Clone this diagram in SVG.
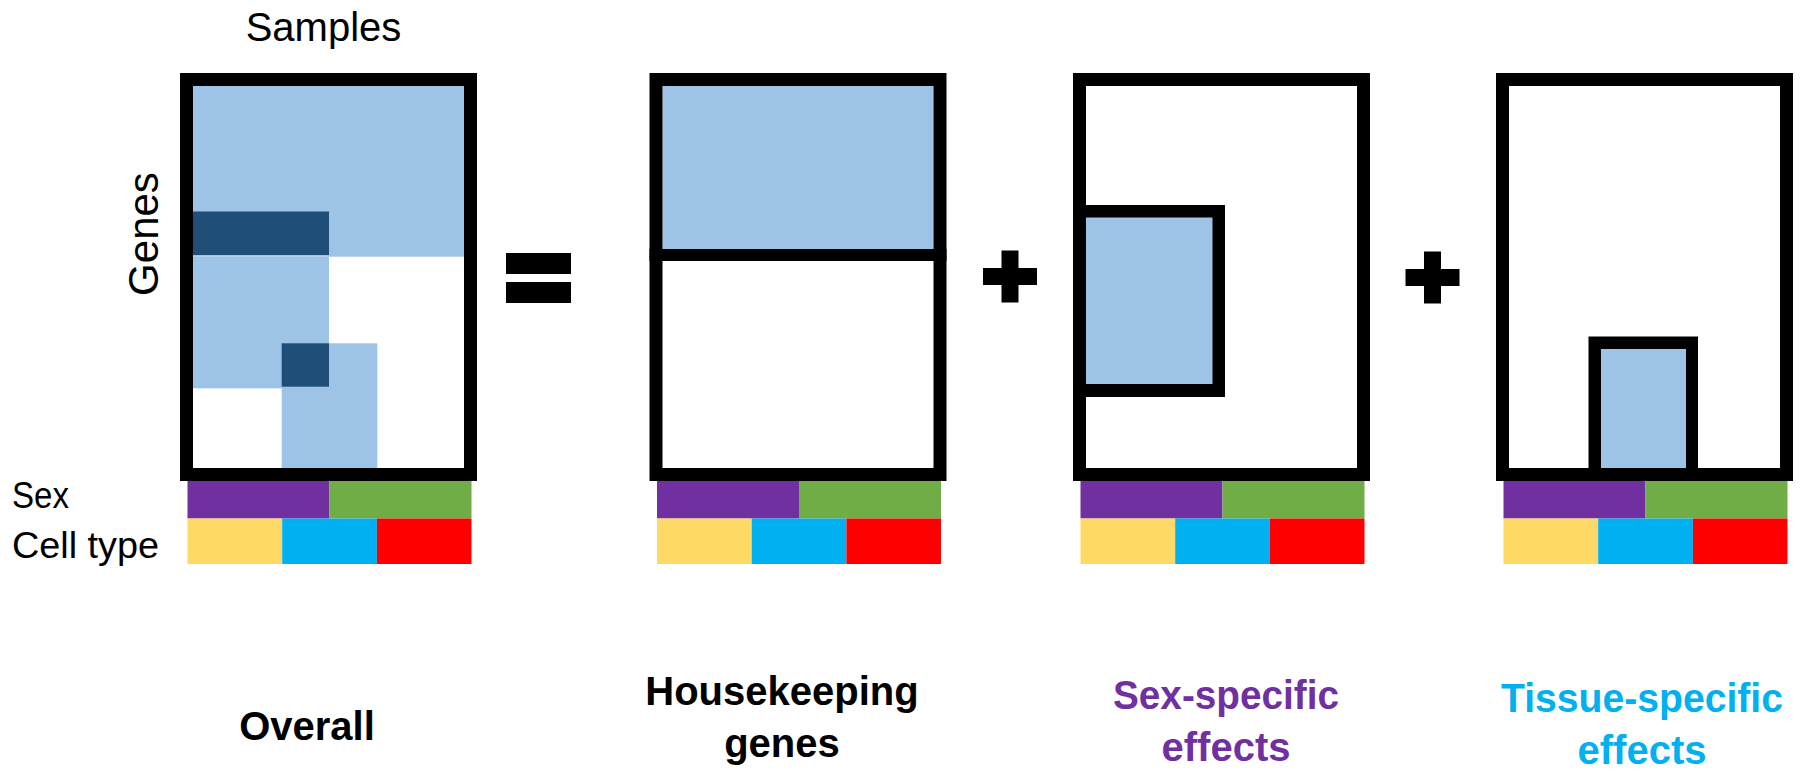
<svg xmlns="http://www.w3.org/2000/svg" width="1806" height="772" viewBox="0 0 1806 772">
  <style>
    text { font-family: "Liberation Sans", Arial, sans-serif; fill: #000; }
    .axis { font-size: 40px; }
    .side { font-size: 36px; }
    .cap { font-size: 40px; font-weight: bold; text-anchor: middle; }
    .frame { fill: none; stroke: #000; stroke-width: 13; }
    .ink { fill: #000; }
    .lb { fill: #9DC3E6; }
    .db { fill: #1F4E79; }
    .male { fill: #7030A0; }
    .female { fill: #70AD47; }
    .ct1 { fill: #FFD966; }
    .ct2 { fill: #00B0F0; }
    .ct3 { fill: #FF0000; }
  </style>
  <defs>
    <!-- sample annotation strip: sex row over cell-type row, 284 wide -->
    <g id="strip">
      <rect class="male" x="0" y="0" width="142" height="37.5"/>
      <rect class="female" x="142" y="0" width="142" height="37.5"/>
      <rect class="ct1" x="0" y="37.5" width="94.7" height="45.5"/>
      <rect class="ct2" x="94.7" y="37.5" width="94.7" height="45.5"/>
      <rect class="ct3" x="189.4" y="37.5" width="94.6" height="45.5"/>
    </g>
  </defs>
  <rect width="1806" height="772" fill="#fff"/>

  <!-- axis and row labels -->
  <g id="labels">
    <text class="axis" x="323.5" y="40.5" text-anchor="middle">Samples</text>
    <text class="axis" font-size="42" text-anchor="middle" transform="translate(158 234) rotate(-90)" style="font-size:42px">Genes</text>
    <text class="side" x="12" y="508" textLength="57" lengthAdjust="spacingAndGlyphs">Sex</text>
    <text class="side" x="12" y="558" textLength="147" lengthAdjust="spacingAndGlyphs">Cell type</text>
  </g>

  <!-- overall expression matrix -->
  <g id="overall">
    <rect class="lb" x="193" y="86" width="271" height="170.7"/>
    <rect class="db" x="193" y="211.5" width="136" height="43.5"/>
    <rect class="lb" x="193" y="256.7" width="136" height="131.6"/>
    <rect class="lb" x="281.7" y="343.3" width="95.6" height="125"/>
    <rect class="db" x="281.7" y="343.3" width="47.3" height="43.4"/>
    <rect class="frame" x="186.5" y="79.5" width="284" height="395"/>
    <use href="#strip" x="187.5" y="481"/>
    <text class="cap" x="307" y="740">Overall</text>
  </g>

  <!-- housekeeping component -->
  <g id="housekeeping">
    <rect class="lb" x="662.5" y="86" width="271" height="163"/>
    <rect class="ink" x="649.5" y="249" width="297" height="12"/>
    <rect class="frame" x="656" y="79.5" width="284" height="395"/>
    <use href="#strip" x="657" y="481"/>
    <text class="cap" x="782" y="705">Housekeeping</text>
    <text class="cap" x="782" y="757">genes</text>
  </g>

  <!-- sex-specific component -->
  <g id="sex-specific">
    <rect class="ink" x="1073" y="205" width="152" height="192"/>
    <rect class="lb" x="1086" y="217.5" width="126.5" height="166.5"/>
    <rect class="frame" x="1079.5" y="79.5" width="284" height="395"/>
    <use href="#strip" x="1080.5" y="481"/>
    <text class="cap" x="1226" y="709" style="fill:#7030A0" textLength="226" lengthAdjust="spacingAndGlyphs">Sex-specific</text>
    <text class="cap" x="1226" y="761" style="fill:#7030A0">effects</text>
  </g>

  <!-- tissue-specific component -->
  <g id="tissue-specific">
    <rect class="ink" x="1588.5" y="336.5" width="109.5" height="144.5"/>
    <rect class="lb" x="1601" y="349" width="85" height="119"/>
    <rect class="frame" x="1502.5" y="79.5" width="284" height="395"/>
    <use href="#strip" x="1503.5" y="481"/>
    <text class="cap" x="1642" y="712" style="fill:#00B0F0" textLength="282" lengthAdjust="spacingAndGlyphs">Tissue-specific</text>
    <text class="cap" x="1642" y="764" style="fill:#00B0F0">effects</text>
  </g>

  <!-- operators between panels -->
  <g id="operators">
    <rect class="ink" x="506" y="253" width="65" height="21"/>
    <rect class="ink" x="506" y="282" width="65" height="21"/>
    <rect class="ink" x="983" y="268" width="54" height="17"/>
    <rect class="ink" x="1001.5" y="250.5" width="17" height="52"/>
    <rect class="ink" x="1405.5" y="269" width="54" height="17"/>
    <rect class="ink" x="1424" y="251.5" width="17" height="52"/>
  </g>
</svg>
